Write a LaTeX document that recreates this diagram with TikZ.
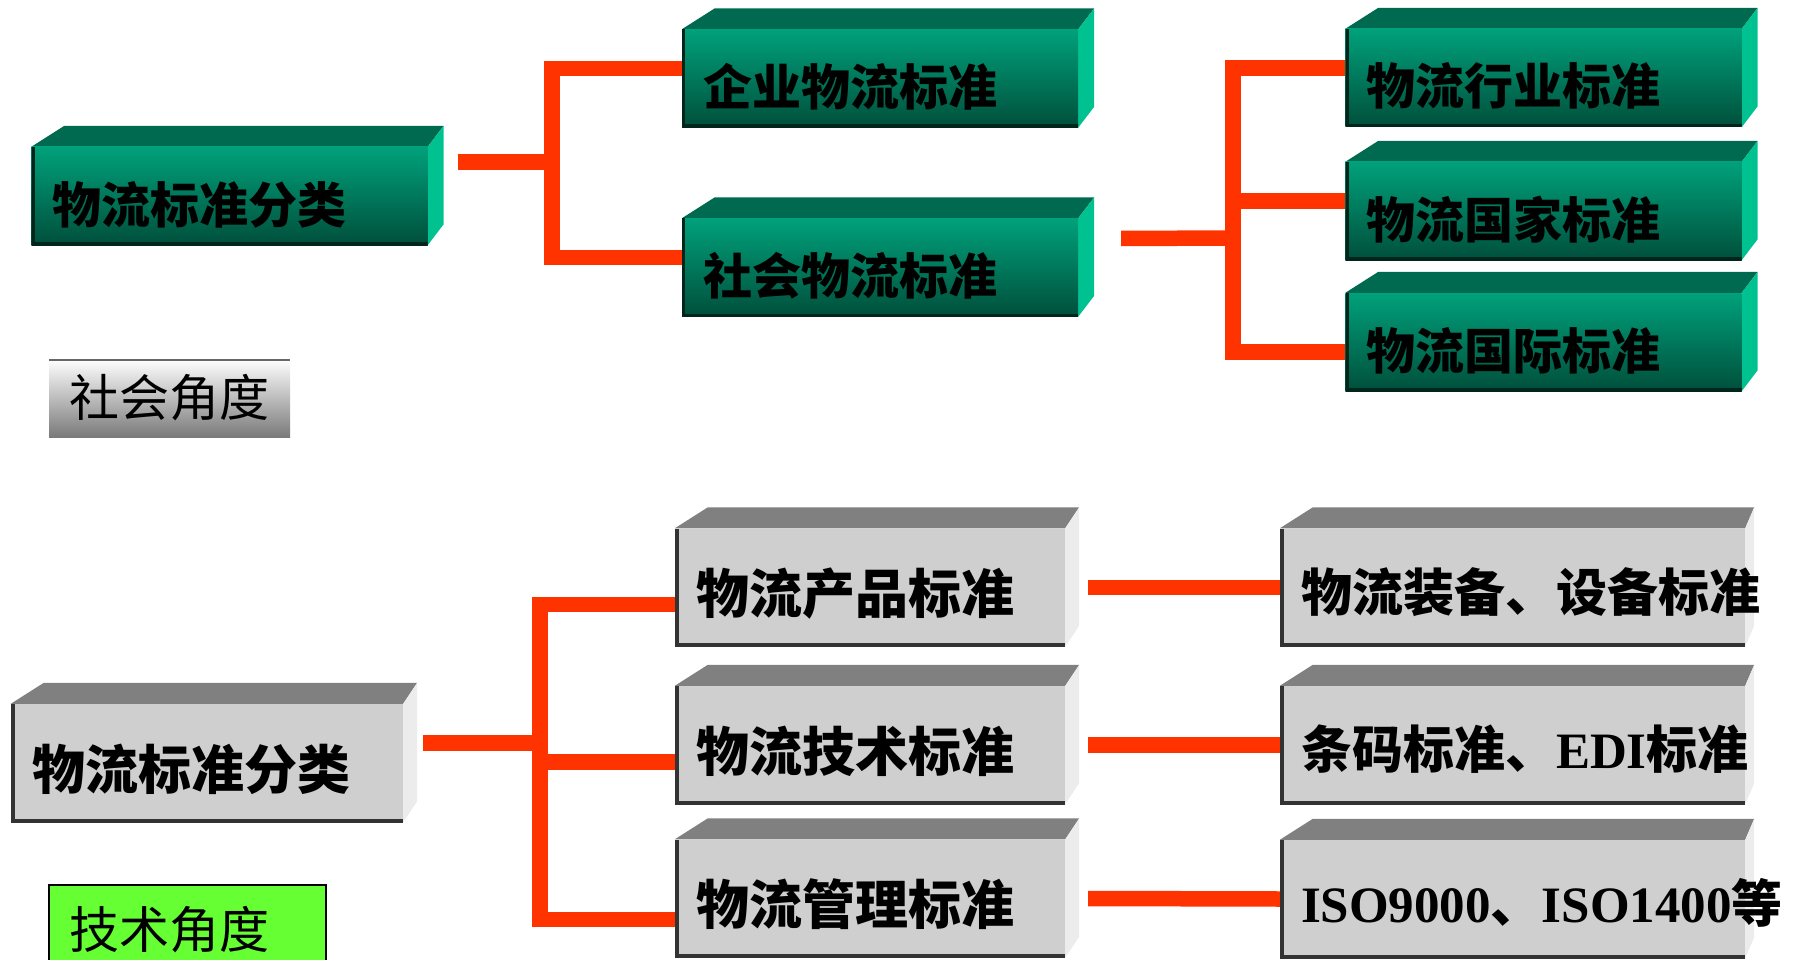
\documentclass[tikz,border=0pt]{standalone}
\usepackage{fontspec}
\setmainfont{Noto Sans CJK SC}
\newfontfamily\lat{Liberation Serif}
\usepackage{tikz}
\usetikzlibrary{calc, backgrounds}

\definecolor{gtop}{HTML}{00A17B}
\definecolor{gbot}{HTML}{004F3B}
\definecolor{gcap}{HTML}{006A50}
\definecolor{gside}{HTML}{00C291}
\definecolor{gedge}{HTML}{00261B}
\definecolor{kface}{HTML}{CFCFCF}
\definecolor{kcap}{HTML}{808080}
\definecolor{kside}{HTML}{ECECEC}
\definecolor{kedge}{HTML}{333333}
\definecolor{linkred}{HTML}{FF3300}
\definecolor{techgreen}{HTML}{66FF33}

% top and right faces of a bevelled box: node, top colour, side colour, side depth
\newcommand{\bevel}[4]{%
  \fill[#2] (#1.north west) -- ++(33,-21) -- ([shift={(#4,-21)}]#1.north east) -- (#1.north east) -- cycle;
  \fill[#3] (#1.north east) -- ++(#4,-21) -- ([shift={(#4,-21)}]#1.south east) -- (#1.south east) -- cycle;
}

\tikzset{
  face/.style={rectangle, inner xsep=21pt, inner ysep=0pt, align=left, text=black},
  greenface/.style={face, top color=gtop, bottom color=gbot, minimum height=98pt, text width=354pt,
    font=\bfseries\fontsize{49}{55}\selectfont, text height=54pt, text depth=0pt,
    path picture={\draw[gedge, line width=6pt] (path picture bounding box.north west) -- (path picture bounding box.south west) -- (path picture bounding box.south east);}},
  grayface/.style={face, fill=kface, minimum height=118pt, text width=#1,
    font=\bfseries\fontsize{53}{58}\selectfont, text height=52pt, text depth=0pt,
    path picture={\draw[kedge, line width=7pt] (path picture bounding box.north west) -- (path picture bounding box.south west) -- (path picture bounding box.south east);}},
  rightface/.style={grayface=423pt, font=\bfseries\fontsize{51}{56}\selectfont, text height=47pt},
  link/.style={linkred, line width=15.5pt, line join=miter},
  viewtag/.style={rectangle, inner xsep=20pt, inner ysep=0pt, align=left, text width=#1, font=\fontsize{50}{55}\selectfont}
}

\begin{document}
\begin{tikzpicture}[x=1pt, y=-1pt]
\useasboundingbox (0,0) rectangle (1812,960);

% social view
\node[greenface] (g0) at (229.5,196) {物流标准分类};
\node[greenface] (g1) at (880,78.5) {企业物流标准};
\node[greenface] (g2) at (880,267.5) {社会物流标准};
\node[greenface] (g3) at (1543.5,78) {物流行业标准};
\node[greenface] (g4) at (1543.5,211) {物流国家标准};
\node[greenface] (g5) at (1543.5,342) {物流国际标准};

\node[viewtag=201pt, minimum height=78pt, top color=white, bottom color=kcap!95!black,
  path picture={\draw[kcap!80!black, line width=4pt] (path picture bounding box.north west) -- (path picture bounding box.north east);}]
  (social) at (169.5,398) {社会角度};

% technical view
\node[grayface=350pt] (k0) at (207,763) {物流标准分类};
\node[grayface=348pt] (k1) at (870,587.5) {物流产品标准};
\node[grayface=348pt] (k2) at (870,745) {物流技术标准};
\node[grayface=348pt] (k3) at (870,898.5) {物流管理标准};
\node[rightface] (z1) at (1512.5,587.5) {物流装备、设备标准};
\node[rightface] (z2) at (1512.5,745) {条码标准、{\lat EDI}标准};
\node[rightface] (z3) at (1512.5,899) {{\lat ISO9000}、{\lat ISO1400}等};

\node[viewtag=237pt, minimum height=90pt, fill=techgreen, draw=black, line width=2.5pt]
  (tech) at (187.5,930) {技术角度};

\begin{scope}[on background layer]
\foreach \n in {g0,g1,g2,g3,g4,g5} {\bevel{\n}{gcap}{gside}{16}}
\foreach \n in {k0,k1,k2,k3} {\bevel{\n}{kcap}{kside}{14}}
\foreach \n in {z1,z2,z3} {\bevel{\n}{kcap}{kside}{9}}
\end{scope}

% connectors
\coordinate (j1) at (552,162);
\coordinate (j2) at (1233,238);
\coordinate (j3) at (540,743);
\draw[link] ([xshift=30pt,yshift=34pt]g0.east) -- (j1);
\draw[link] ([yshift=10pt]g1.west) -| (j1);
\draw[link] ([yshift=10pt]g2.west) -| (j1);
\draw[link] ([xshift=43pt,yshift=29pt]g2.east) -- (j2);
\draw[link] ([yshift=10pt]g3.west) -| (j2);
\draw[link] ([yshift=10pt]g4.west) -| (j2);
\draw[link] ([yshift=-10pt]g5.west) -| (j2);
\draw[link] ([xshift=20pt,yshift=20pt]k0.east) -- (j3);
\draw[link] ([yshift=-17pt]k1.west) -| (j3);
\draw[link] ([yshift=-17pt]k2.west) -| (j3);
\draw[link] ([yshift=-21pt]k3.west) -| (j3);
\draw[link] ([xshift=23pt]k1.east) -- (z1.west);
\draw[link] ([xshift=23pt]k2.east) -- (z2.west);
\draw[link] ([xshift=23pt]k3.east) -- (z3.west);
\end{tikzpicture}
\end{document}
